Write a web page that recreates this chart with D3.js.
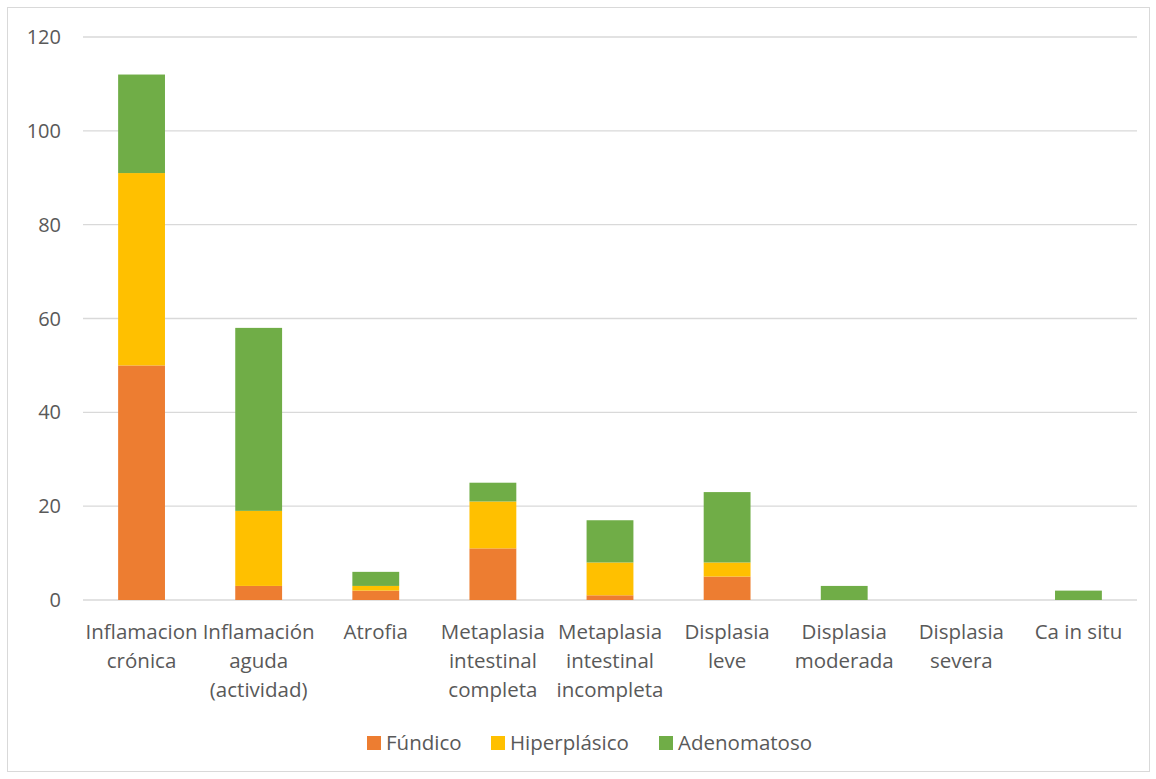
<!DOCTYPE html>
<html>
<head>
<meta charset="utf-8">
<script src="https://cdn.jsdelivr.net/npm/d3@7"></script>
<style>
  body { margin: 0; background: #fff; }
  svg text { font-family: "Open Sans", Lato, sans-serif; fill: #595959; }
</style>
</head>
<body>
<svg id="chart" width="1156" height="779"></svg>
<script>
const categories = [
  ["Inflamacion", "crónica"],
  ["Inflamación", "aguda", "(actividad)"],
  ["Atrofia"],
  ["Metaplasia", "intestinal", "completa"],
  ["Metaplasia", "intestinal", "incompleta"],
  ["Displasia", "leve"],
  ["Displasia", "moderada"],
  ["Displasia", "severa"],
  ["Ca in situ"]
]
const seriesNames = ["Fúndico", "Hiperplásico", "Adenomatoso"]
const seriesColors = ["#ed7d31", "#ffc000", "#70ad47"]
const fundico = [50, 3, 2, 11, 1, 5, 0, 0, 0]
const hiperplasico = [41, 16, 1, 10, 7, 3, 0, 0, 0]
const adenomatoso = [21, 39, 3, 4, 9, 15, 3, 0, 2]
const yTicks = [0, 20, 40, 60, 80, 100, 120]

const svg = d3.select('#chart')

// outer border
svg.append('rect')
  .attr('x', 7.5).attr('y', 7.5)
  .attr('width', 1142).attr('height', 764)
  .attr('fill', 'none').attr('stroke', '#d9d9d9')

const plotLeft = 83, plotRight = 1137, plotTop = 37, plotBottom = 600

const rows = categories.map(function(c, i) {
  return { idx: i, f: fundico[i], h: hiperplasico[i], a: adenomatoso[i] }
})

const x = d3.scaleBand().domain(d3.range(categories.length)).range([plotLeft, plotRight]).paddingInner(0.6).paddingOuter(0.3)
const y = d3.scaleLinear().domain([0, 120]).range([plotBottom, plotTop])

// grid lines
svg.append('g').selectAll('line').data(yTicks).join('line')
  .attr('x1', plotLeft).attr('x2', plotRight)
  .attr('y1', d => y(d)).attr('y2', d => y(d))
  .attr('stroke', '#d9d9d9').attr('stroke-width', 1.3)

// y labels
svg.append('g').selectAll('text').data(yTicks).join('text')
  .attr('x', 61).attr('y', d => y(d))
  .attr('dy', '0.35em')
  .attr('text-anchor', 'end')
  .style('font-size', '20px')
  .text(d => d)

const stack = d3.stack().keys(['f', 'h', 'a'])(rows)

svg.append('g').selectAll('g').data(stack).join('g')
  .attr('fill', (d, i) => seriesColors[i])
  .selectAll('rect').data(d => d).join('rect')
  .attr('x', d => x(d.data.idx))
  .attr('width', x.bandwidth())
  .attr('y', d => y(d[1]))
  .attr('height', d => y(d[0]) - y(d[1]))

// category labels
const catG = svg.append('g')
categories.forEach(function(lines, i) {
  const t = catG.append('text')
    .attr('text-anchor', 'middle')
    .style('font-size', '20.5px')
  lines.forEach(function(line, j) {
    t.append('tspan')
      .attr('x', x(i) + x.bandwidth() / 2)
      .attr('y', 639 + j * 29)
      .text(line)
  })
})

// legend
const legendX = [367, 491, 659]
const legend = svg.append('g')
seriesNames.forEach(function(name, i) {
  legend.append('rect')
    .attr('x', legendX[i]).attr('y', 736)
    .attr('width', 14).attr('height', 14)
    .attr('fill', seriesColors[i])
  legend.append('text')
    .attr('x', legendX[i] + 19).attr('y', 743)
    .attr('dy', '0.35em')
    .style('font-size', '20.5px')
    .text(name)
})
</script>
</body>
</html>
